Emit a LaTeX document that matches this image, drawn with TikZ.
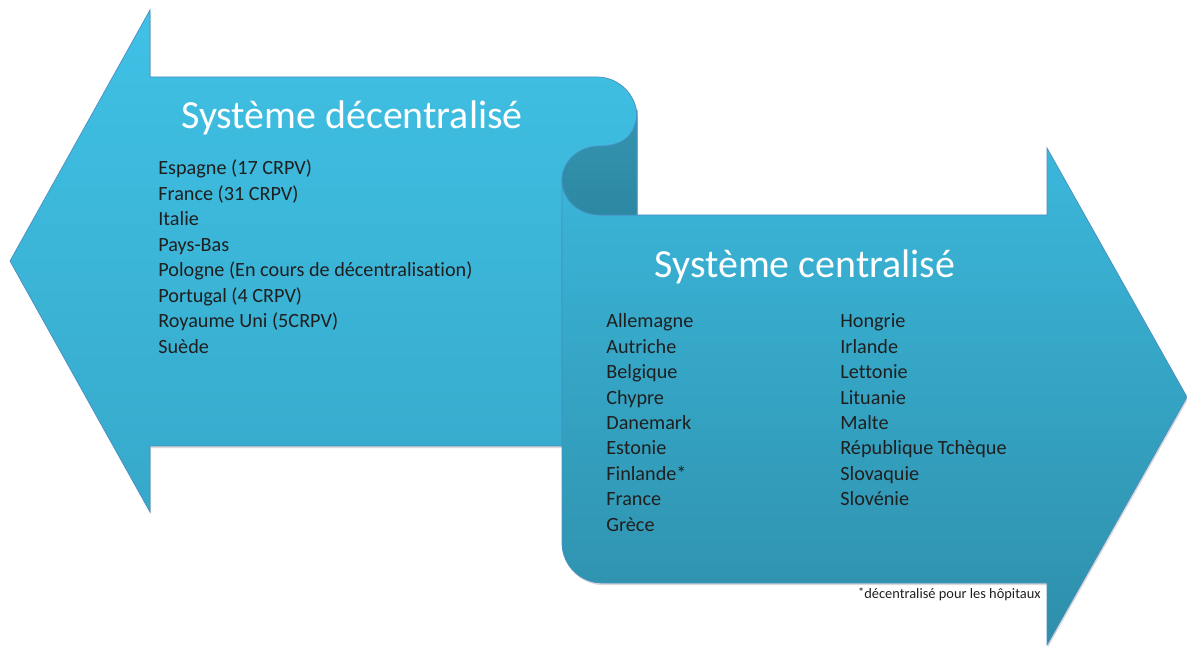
\documentclass[tikz,border=0pt]{standalone}
\usepackage{fontspec}
\setmainfont[Ligatures=NoCommon]{Carlito}
\usetikzlibrary{shadows}

\definecolor{skytop}{HTML}{3FC1E5}
\definecolor{skymid}{HTML}{37A9CA}
\definecolor{lowtop}{HTML}{3BB7DB}
\definecolor{lowbot}{HTML}{2E8FAA}
\definecolor{foldtop}{HTML}{3395B1}
\definecolor{foldbot}{HTML}{2D88A2}
\definecolor{edgec}{HTML}{4A8FC4}
\definecolor{inkc}{HTML}{1F1F1F}

\begin{document}
\begin{tikzpicture}[x=0.02cm,y=-0.02cm,
 arrowbody/.style={draw=edgec,line width=0.4pt,drop shadow={shadow xshift=0.6pt,shadow yshift=-1.2pt,opacity=0.3}},
 titletext/.style={text=white,font=\fontsize{22.7}{26}\selectfont,inner sep=0pt,anchor=base},
 item/.style={text=inkc,font=\fontsize{11.5}{14}\selectfont,inner sep=0pt,anchor=base west}]
\useasboundingbox (0,0) rectangle (1187,648);

% left arrow
\path[arrowbody,top color=skytop,bottom color=skymid] (10,261) -- (150,10) -- (150,77) -- (597,77) .. controls (619,77) and (637,95) .. (637,117) -- (637,215) -- (562,215) -- (562,446) -- (150,446) -- (150,512) -- cycle;
% right arrow
\path[arrowbody,top color=lowtop,bottom color=lowbot] (562,180) -- (600,180) -- (600,215) -- (1047,215) -- (1047,148) -- (1187,397) -- (1047,645) -- (1047,583) -- (602,583) .. controls (580,583) and (562,565) .. (562,543) -- cycle;
% curl
\path[draw=edgec,line width=0.4pt,top color=foldtop,bottom color=foldbot] (637,110) .. controls (637,134) and (624,146) .. (600,146) .. controls (579,146) and (562,161) .. (562,180) .. controls (562,200) and (579,215) .. (600,215) -- (637,215) -- cycle;

\node[titletext] (dectitle) at (352,129) {Système décentralisé};
\node[titletext] (centitle) at (805,278) {Système centralisé};

\foreach \c [count=\i] in {Espagne (17 CRPV),France (31 CRPV),Italie,Pays-Bas,Pologne (En cours de décentralisation),Portugal (4 CRPV),Royaume Uni (5CRPV),Suède}
  \node[item] (dec-\i) at (158,{175+25.5*(\i-1)}) {\c};
\foreach \c [count=\i] in {Allemagne,Autriche,Belgique,Chypre,Danemark,Estonie,Finlande*,France,Grèce}
  \node[item] (cenA-\i) at (606,{328+25.4*(\i-1)}) {\c};
\foreach \c [count=\i] in {Hongrie,Irlande,Lettonie,Lituanie,Malte,République Tchèque,Slovaquie,Slovénie}
  \node[item] (cenB-\i) at (840,{328+25.4*(\i-1)}) {\c};

\node[text=inkc,font=\fontsize{8.2}{9}\selectfont,inner sep=0pt,anchor=base east] (note) at (1041,598) {\raisebox{0.25ex}{\scriptsize *}décentralisé pour les hôpitaux};
\end{tikzpicture}
\end{document}
